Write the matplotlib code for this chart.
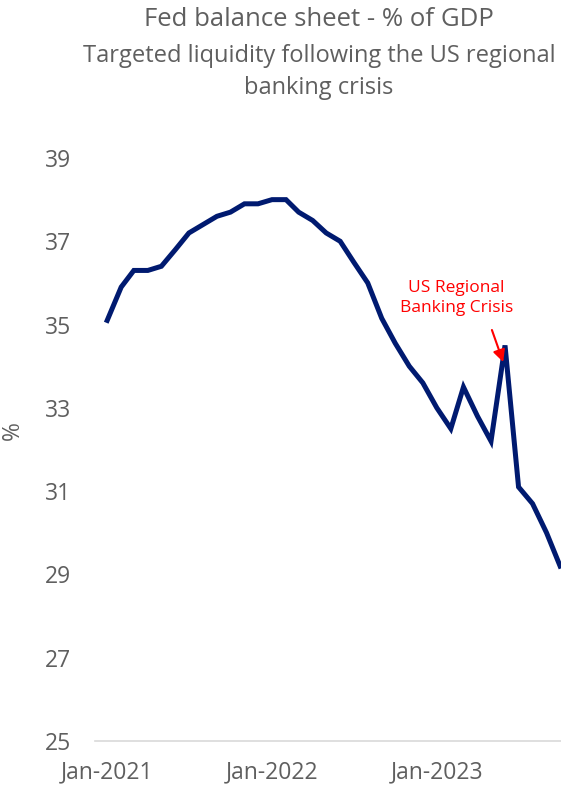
import numpy as np
import pandas as pd
import matplotlib
matplotlib.use("Agg")
import matplotlib.pyplot as plt
import matplotlib.dates as mdates

plt.rcParams['font.family'] = ['Open Sans', 'DejaVu Sans']

# Fed balance sheet as % of GDP, monthly from Jan-2021
pct_gdp = [35.1, 35.9, 36.3, 36.3, 36.4, 36.8, 37.2, 37.4, 37.6, 37.7, 37.9, 37.9,
           38.0, 38.0, 37.7, 37.5, 37.2, 37.0, 36.5, 36.0, 35.15, 34.55, 34.0, 33.6,
           33.0, 32.5, 33.5, 32.8, 32.2, 34.5, 31.1, 30.7, 30.0, 29.2]
months = pd.date_range('2021-01-01', periods=len(pct_gdp), freq='MS')
yticks = [25, 27, 29, 31, 33, 35, 37, 39]
xticks = ['2021-01-01', '2022-01-01', '2023-01-01']

grey = '#5f5f5f'
navy = '#001A70'

fig = plt.figure(figsize=(5.61, 7.90), dpi=100)
ax = fig.add_axes([95 / 561, 1 - 741 / 790, 1 - 95 / 561, (741 - 158) / 790])

ax.plot(months, pct_gdp, color=navy, lw=3.6, solid_joinstyle='miter')

ax.set_ylim(25, 39)
ax.set_yticks(yticks)
ax.set_xlim(pd.Timestamp('2020-12-05'), pd.Timestamp('2023-10-03'))
ax.set_xticks(pd.to_datetime(xticks))
ax.xaxis.set_major_formatter(mdates.DateFormatter('%b-%Y'))

for s in ['top', 'right', 'left']:
    ax.spines[s].set_visible(False)
ax.spines['bottom'].set_color('#D9D9D9')
ax.spines['bottom'].set_linewidth(1.2)
ax.tick_params(axis='both', length=0, labelsize=16.5, colors=grey)
ax.tick_params(axis='y', pad=17)
ax.tick_params(axis='x', pad=14)
ax.set_ylabel('%', fontsize=16.5, color=grey)
ax.yaxis.set_label_coords(-0.150, 0.533)

# annotation for the spike
ax.text(months[26] - pd.Timedelta(days=15), 35.63, 'US Regional\nBanking Crisis',
        ha='center', va='center', fontsize=12.5, color='#FF0000', linespacing=1.35)
ax.annotate('', xy=(months[29] - pd.Timedelta(days=4), 34.10),
            xytext=(months[28] + pd.Timedelta(days=2), 34.87),
            arrowprops=dict(arrowstyle='-|>', color='#FF0000', lw=1.5,
                            mutation_scale=18, shrinkA=0, shrinkB=0))

fig.text(319 / 561, 1 - 20 / 790, 'Fed balance sheet - % of GDP',
         ha='center', va='center', fontsize=18.5, color=grey)
fig.text(319 / 561, 1 - 72 / 790, 'Targeted liquidity following the US regional\nbanking crisis',
         ha='center', va='center', fontsize=17, color=grey, linespacing=1.4)

fig.savefig('out.png', dpi=100)
